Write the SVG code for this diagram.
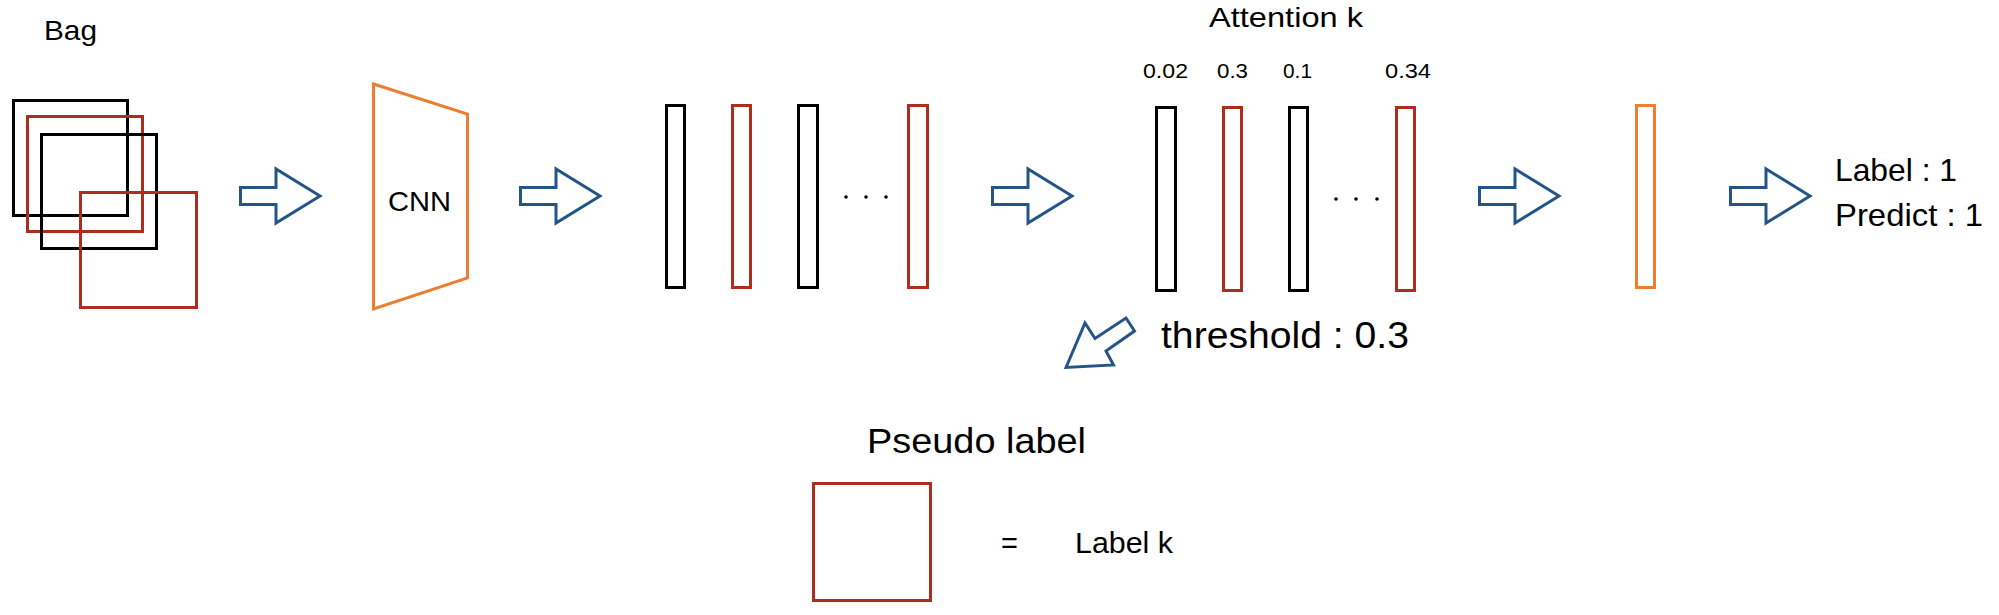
<svg xmlns="http://www.w3.org/2000/svg" xmlns:xlink="http://www.w3.org/1999/xlink" width="1999" height="615" viewBox="0 0 1999 615">
<style>
.blk{fill:none;stroke:#000;stroke-width:3}
.red{fill:none;stroke:#ad2e1e;stroke-width:3}
.org{fill:none;stroke:#ed7d31;stroke-width:3}
.arr{fill:#fff;stroke:#245587;stroke-width:3;stroke-linejoin:miter}
.t{font-family:"Liberation Sans",Arial,sans-serif;fill:#000}
.dot{fill:#000}
</style>
<defs>
<path id="barrow" d="M1.5,187.5 L37,187.5 L37,169 L81,196 L37,223 L37,204.5 L1.5,204.5 Z"/>
</defs>
<rect width="1999" height="615" fill="#fff"/>

<g id="bag">
<text class="t" x="44" y="40" font-size="28" textLength="53" lengthAdjust="spacingAndGlyphs">Bag</text>
<rect class="blk" x="13.5" y="100.5" width="114" height="115"/>
<rect class="red" x="27.5" y="116.5" width="115" height="115"/>
<rect class="blk" x="41.5" y="134.5" width="115" height="114"/>
<rect class="red" x="80.5" y="192.5" width="116" height="115"/>
</g>

<g id="cnn">
<path class="org" d="M373.5,84 L467.5,114 L467.5,278 L373.5,309 Z"/>
<text class="t" x="388" y="211" font-size="28" textLength="63" lengthAdjust="spacingAndGlyphs">CNN</text>
</g>

<g id="features">
<rect class="blk" x="666.5" y="105.5" width="18" height="182"/>
<rect class="red" x="732.5" y="105.5" width="18" height="182"/>
<rect class="blk" x="798.5" y="105.5" width="19" height="182"/>
<circle class="dot" cx="846" cy="197" r="1.8"/>
<circle class="dot" cx="866" cy="197" r="1.8"/>
<circle class="dot" cx="886" cy="197" r="1.8"/>
<rect class="red" x="908.5" y="105.5" width="19" height="182"/>
</g>

<g id="attention">
<text class="t" x="1209" y="27" font-size="28" textLength="154" lengthAdjust="spacingAndGlyphs">Attention k</text>
<text class="t" x="1143" y="78" font-size="21" textLength="45" lengthAdjust="spacingAndGlyphs">0.02</text>
<text class="t" x="1217" y="78" font-size="21" textLength="31" lengthAdjust="spacingAndGlyphs">0.3</text>
<text class="t" x="1283" y="78" font-size="21" textLength="29" lengthAdjust="spacingAndGlyphs">0.1</text>
<text class="t" x="1385" y="78" font-size="21" textLength="46" lengthAdjust="spacingAndGlyphs">0.34</text>
<rect class="blk" x="1156.5" y="107.5" width="19" height="183"/>
<rect class="red" x="1223.5" y="107.5" width="18" height="183"/>
<rect class="blk" x="1289.5" y="107.5" width="18" height="183"/>
<circle class="dot" cx="1336" cy="199" r="1.8"/>
<circle class="dot" cx="1356" cy="199" r="1.8"/>
<circle class="dot" cx="1377" cy="199" r="1.8"/>
<rect class="red" x="1396.5" y="107.5" width="18" height="183"/>
<text class="t" x="1161" y="348" font-size="36" textLength="248" lengthAdjust="spacingAndGlyphs">threshold : 0.3</text>
</g>

<g id="pooled">
<rect class="org" x="1636.5" y="105.5" width="18" height="182"/>
</g>

<g id="output">
<text class="t" x="1835" y="181" font-size="32" textLength="122" lengthAdjust="spacingAndGlyphs">Label : 1</text>
<text class="t" x="1835" y="226" font-size="32" textLength="148" lengthAdjust="spacingAndGlyphs">Predict : 1</text>
</g>

<g id="pseudo">
<text class="t" x="867" y="453" font-size="35" textLength="219" lengthAdjust="spacingAndGlyphs">Pseudo label</text>
<rect class="red" x="813.5" y="483.5" width="117" height="117"/>
<text class="t" x="1001" y="553" font-size="29">=</text>
<text class="t" x="1075" y="553" font-size="29" textLength="98" lengthAdjust="spacingAndGlyphs">Label k</text>
</g>

<g id="connectors">
<use xlink:href="#barrow" class="arr" transform="translate(239,0)"/>
<use xlink:href="#barrow" class="arr" transform="translate(519,0)"/>
<use xlink:href="#barrow" class="arr" transform="translate(991,0)"/>
<use xlink:href="#barrow" class="arr" transform="translate(1478,0)"/>
<use xlink:href="#barrow" class="arr" transform="translate(1729,0)"/>
<path class="arr" d="M1066,367.5 L1085,323 L1095,338.5 L1126,318 L1134.5,331 L1106,351 L1113.5,365 Z"/>
</g>
</svg>
